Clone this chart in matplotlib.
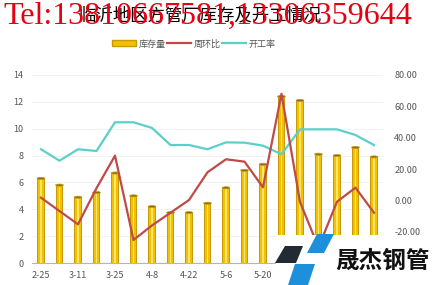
import matplotlib
matplotlib.use("Agg")
import matplotlib.pyplot as plt
from matplotlib.patches import Ellipse, Polygon, Rectangle
from matplotlib.lines import Line2D
from matplotlib.patches import Patch
import numpy as np

plt.rcParams['font.family'] = ['Noto Sans CJK SC', 'DejaVu Sans']

# 周度数据
dates = ["2-25", "3-4", "3-11", "3-18", "3-25", "4-1", "4-8", "4-15", "4-22", "4-29",
         "5-6", "5-13", "5-20", "5-27", "6-3", "6-10", "6-17", "6-24", "7-1"]
stock = [6.3, 5.8, 4.9, 5.25, 6.7, 5.0, 4.2, 3.75, 3.75, 4.45,
         5.6, 6.9, 7.35, 12.4, 12.1, 8.1, 8.0, 8.6, 7.9]
wow = [1.7, -6.8, -15.3, 7.8, 28.5, -25.3, -16.0, -7.9, 0.2, 17.9,
       26.2, 24.7, 8.3, 68.0, -1.0, -30.0, -0.9, 8.1, -7.9]
rate = [32.6, 25.3, 32.6, 31.5, 49.8, 49.8, 46.2, 35.3, 35.3, 32.6,
        37.0, 36.8, 34.9, 29.4, 45.3, 45.3, 45.3, 41.7, 35.3]

x = np.arange(len(dates))

fig = plt.figure(figsize=(4.35, 2.85), dpi=100)
ax = fig.add_axes([0.073, 0.077, 0.808, 0.66])
ax2 = ax.twinx()

# 圆柱形柱子：外层暗金、中间亮黄、高光
ax.bar(x, stock, width=0.42, color="#C99A06", zorder=2)
ax.bar(x, stock, width=0.30, color="#F2C200", zorder=3)
ax.bar(x, stock, width=0.10, color="#FFE66A", zorder=4)
for xi, v in zip(x, stock):
    ax.add_patch(Ellipse((xi, v), 0.42, 0.16, facecolor="#8C6E12",
                         edgecolor="#C99A06", lw=0.5, zorder=5))

ax.set_xlim(-0.5, len(dates) - 0.5)
ax.set_ylim(0, 14)
ax.set_yticks(np.arange(0, 15, 2))
ax.set_xticks(x)
# 6月之后的标签被logo挡住，不显示
ax.set_xticklabels([d if i % 2 == 0 and i < 13 else "" for i, d in enumerate(dates)])
ax.tick_params(axis="both", length=0, labelsize=6.5, colors="#555555", pad=6)
ax.grid(axis="y", color="#F0F0F0", lw=0.6, zorder=0)
for s in ["top", "right", "left"]:
    ax.spines[s].set_visible(False)
ax.spines["bottom"].set_color("#9DB9E0")

ax2.plot(x, rate, color="#5CCFCB", lw=1.6, zorder=3)
ax2.plot(x, wow, color="#BE4B48", lw=1.6, zorder=4)
ax2.set_ylim(-40, 80)
rticks = np.arange(-20, 81, 20)
ax2.set_yticks(rticks)
ax2.set_yticklabels(["%.2f" % t for t in rticks])
ax2.tick_params(axis="y", length=0, labelsize=6.5, colors="#555555", pad=8)
for s in ax2.spines.values():
    s.set_visible(False)

handles = [Patch(facecolor="#F2C200", edgecolor="#C99A06"),
           Line2D([], [], color="#BE4B48", lw=1.6),
           Line2D([], [], color="#5CCFCB", lw=1.6)]
fig.legend(handles, ["库存量", "周环比", "开工率"], loc="center", ncol=3,
           bbox_to_anchor=(0.446, 0.846), frameon=False, fontsize=6.5,
           labelcolor="#555555", handlelength=2.6, handletextpad=0.3,
           columnspacing=0.2, handleheight=0.6)

fig.text(0.46, 0.947, "临沂地区方管厂库存及开工情况", ha="center", va="center",
         fontsize=12.5, color="black")
fig.text(0.008, 0.944, "Tel:13810667581,13306359644", ha="left", va="center",
         fontsize=23, color="#E60012", family=["Liberation Serif"], zorder=10)

# 右下角logo
W, H = 435.0, 285.0
def px(pts):
    return [(a / W, 1 - b / H) for a, b in pts]

fig.add_artist(Rectangle((276 / W, 0), 1, 50 / H, transform=fig.transFigure,
                         facecolor="white", edgecolor="none", zorder=20))
fig.add_artist(Polygon(px([(285, 246), (303, 246), (296, 263), (275, 263)]),
                       transform=fig.transFigure, facecolor="#222B33", zorder=21))
fig.add_artist(Polygon(px([(317, 234), (334, 234), (324, 253), (307, 253)]),
                       transform=fig.transFigure, facecolor="#1E90DB", zorder=21))
fig.add_artist(Polygon(px([(295, 264), (315, 264), (308, 285), (288, 285)]),
                       transform=fig.transFigure, facecolor="#1E90DB", zorder=21))
fig.text(382 / W, 1 - 261 / H, "晟杰钢管", ha="center", va="center", fontsize=17,
         fontweight="bold", color="#111111", zorder=22)

fig.savefig("out.png", dpi=100)
